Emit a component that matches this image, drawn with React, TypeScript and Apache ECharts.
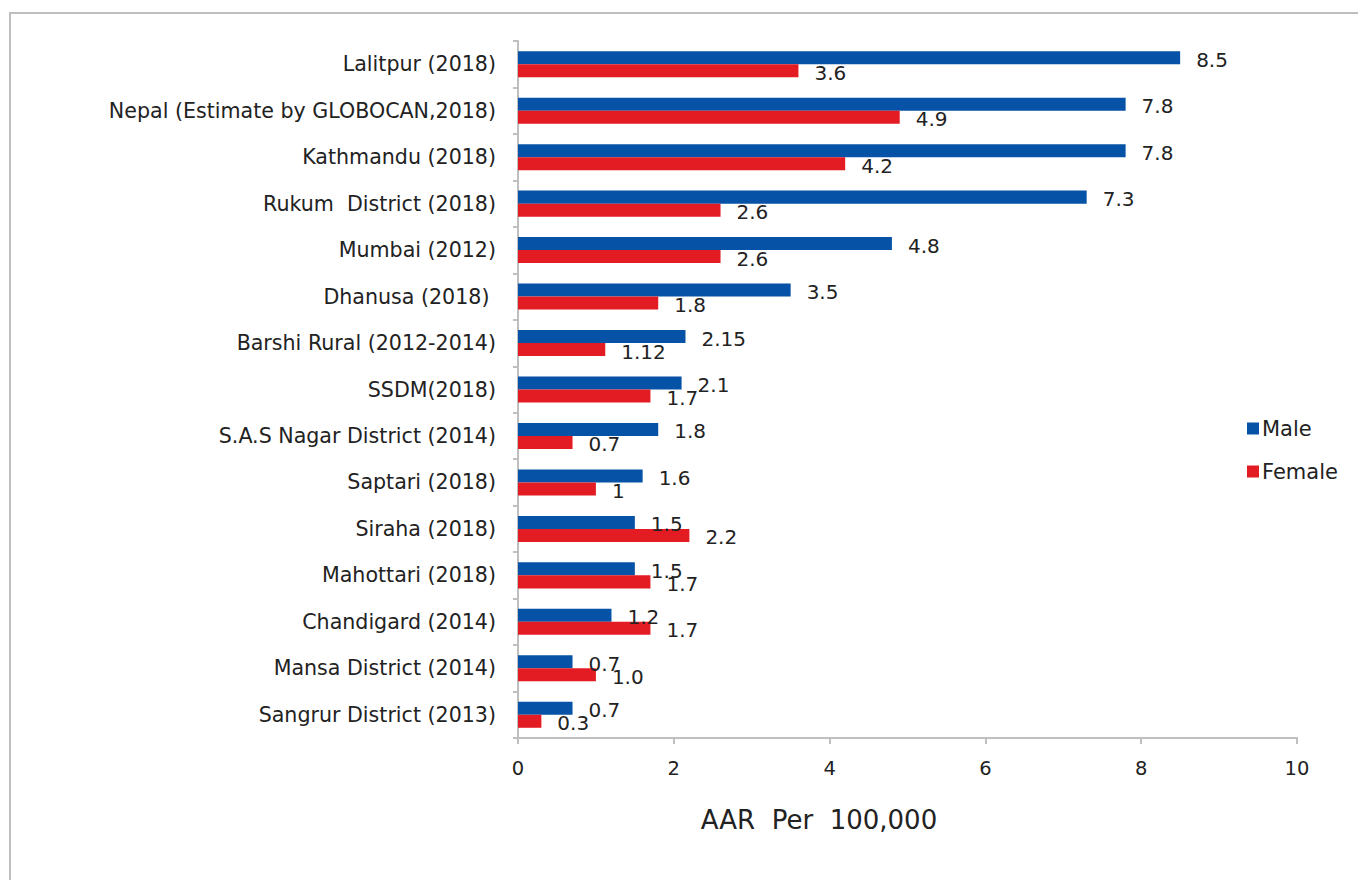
import React, { useEffect, useRef } from "react";
import * as echarts from "echarts";

const categories = [
  "Lalitpur (2018)",
  "Nepal (Estimate by GLOBOCAN,2018)",
  "Kathmandu (2018)",
  "Rukum  District (2018)",
  "Mumbai (2012)",
  "Dhanusa (2018) ",
  "Barshi Rural (2012-2014)",
  "SSDM(2018)",
  "S.A.S Nagar District (2014)",
  "Saptari (2018)",
  "Siraha (2018)",
  "Mahottari (2018)",
  "Chandigard (2014)",
  "Mansa District (2014)",
  "Sangrur District (2013)",
];
const maleValues = [8.5, 7.8, 7.8, 7.3, 4.8, 3.5, 2.15, 2.1, 1.8, 1.6, 1.5, 1.5, 1.2, 0.7, 0.7];
const femaleValues = [3.6, 4.9, 4.2, 2.6, 2.6, 1.8, 1.12, 1.7, 0.7, 1, 2.2, 1.7, 1.7, 1.0, 0.3];
const maleLabels = ["8.5", "7.8", "7.8", "7.3", "4.8", "3.5", "2.15", "2.1", "1.8", "1.6", "1.5", "1.5", "1.2", "0.7", "0.7"];
const femaleLabels = ["3.6", "4.9", "4.2", "2.6", "2.6", "1.8", "1.12", "1.7", "0.7", "1", "2.2", "1.7", "1.7", "1.0", "0.3"];
const xTicks = [0, 2, 4, 6, 8, 10];
const axisTitle = "AAR  Per  100,000";

const FONT = "'DejaVu Sans', sans-serif";
const BLUE = "#0652A6";
const RED = "#E31B23";

export default function App() {
  const ref = useRef<HTMLDivElement>(null);
  useEffect(() => {
    if (!ref.current) return;
    const chart = echarts.init(ref.current, undefined, { renderer: "svg" });
    const labelStyle = (labels: string[]) => ({
      show: true,
      position: "right",
      offset: [11, 2],
      fontFamily: FONT,
      fontSize: 20,
      color: "#222",
      formatter: (p: any) => labels[p.dataIndex],
    });
    chart.setOption({
      animation: false,
      backgroundColor: "#fff",
      textStyle: { fontFamily: FONT },
      grid: { left: 518, right: 61, top: 41, bottom: 142, containLabel: false },
      legend: {
        orient: "vertical",
        left: 1242,
        top: 413,
        itemWidth: 12,
        itemHeight: 12,
        itemGap: 22,
        icon: "rect",
        textStyle: { fontFamily: FONT, fontSize: 21, color: "#222", padding: [0, 0, 0, -2] },
        data: ["Male", "Female"],
      },
      xAxis: {
        type: "value",
        min: xTicks[0],
        max: xTicks[xTicks.length - 1],
        interval: 2,
        axisLine: { show: true, lineStyle: { color: "#BFBFBF", width: 2 } },
        axisTick: { show: true, length: 6, lineStyle: { color: "#BFBFBF", width: 2 } },
        axisLabel: { fontFamily: FONT, fontSize: 19.5, color: "#222", margin: 20 },
        splitLine: { show: false },
      },
      yAxis: {
        type: "category",
        inverse: true,
        data: categories,
        axisLine: { show: true, lineStyle: { color: "#BFBFBF", width: 2 } },
        axisTick: { show: true, length: 5, lineStyle: { color: "#BFBFBF", width: 2 } },
        axisLabel: { fontFamily: FONT, fontSize: 20.6, color: "#222", margin: 22 },
      },
      series: [
        {
          name: "Male",
          type: "bar",
          data: maleValues,
          itemStyle: { color: BLUE },
          barGap: "0%",
          barCategoryGap: "44%",
          label: labelStyle(maleLabels),
        },
        {
          name: "Female",
          type: "bar",
          data: femaleValues,
          itemStyle: { color: RED },
          barGap: "0%",
          barCategoryGap: "44%",
          label: labelStyle(femaleLabels),
        },
      ],
      graphic: [
        {
          type: "rect",
          shape: { x: 10, y: 13, width: 1400, height: 900 },
          style: { fill: "none", stroke: "#BFBFBF", lineWidth: 2 },
          silent: true,
        },
        {
          type: "text",
          x: 819,
          y: 820,
          style: {
            text: axisTitle,
            fontFamily: FONT,
            fontSize: 26,
            fill: "#222",
            textAlign: "center",
            textVerticalAlign: "middle",
          },
          silent: true,
        },
      ],
    });
    return () => chart.dispose();
  }, []);
  return (
    <div
      ref={ref}
      style={{ position: "fixed", left: 0, top: 0, width: 1358, height: 880 }}
    />
  );
}
